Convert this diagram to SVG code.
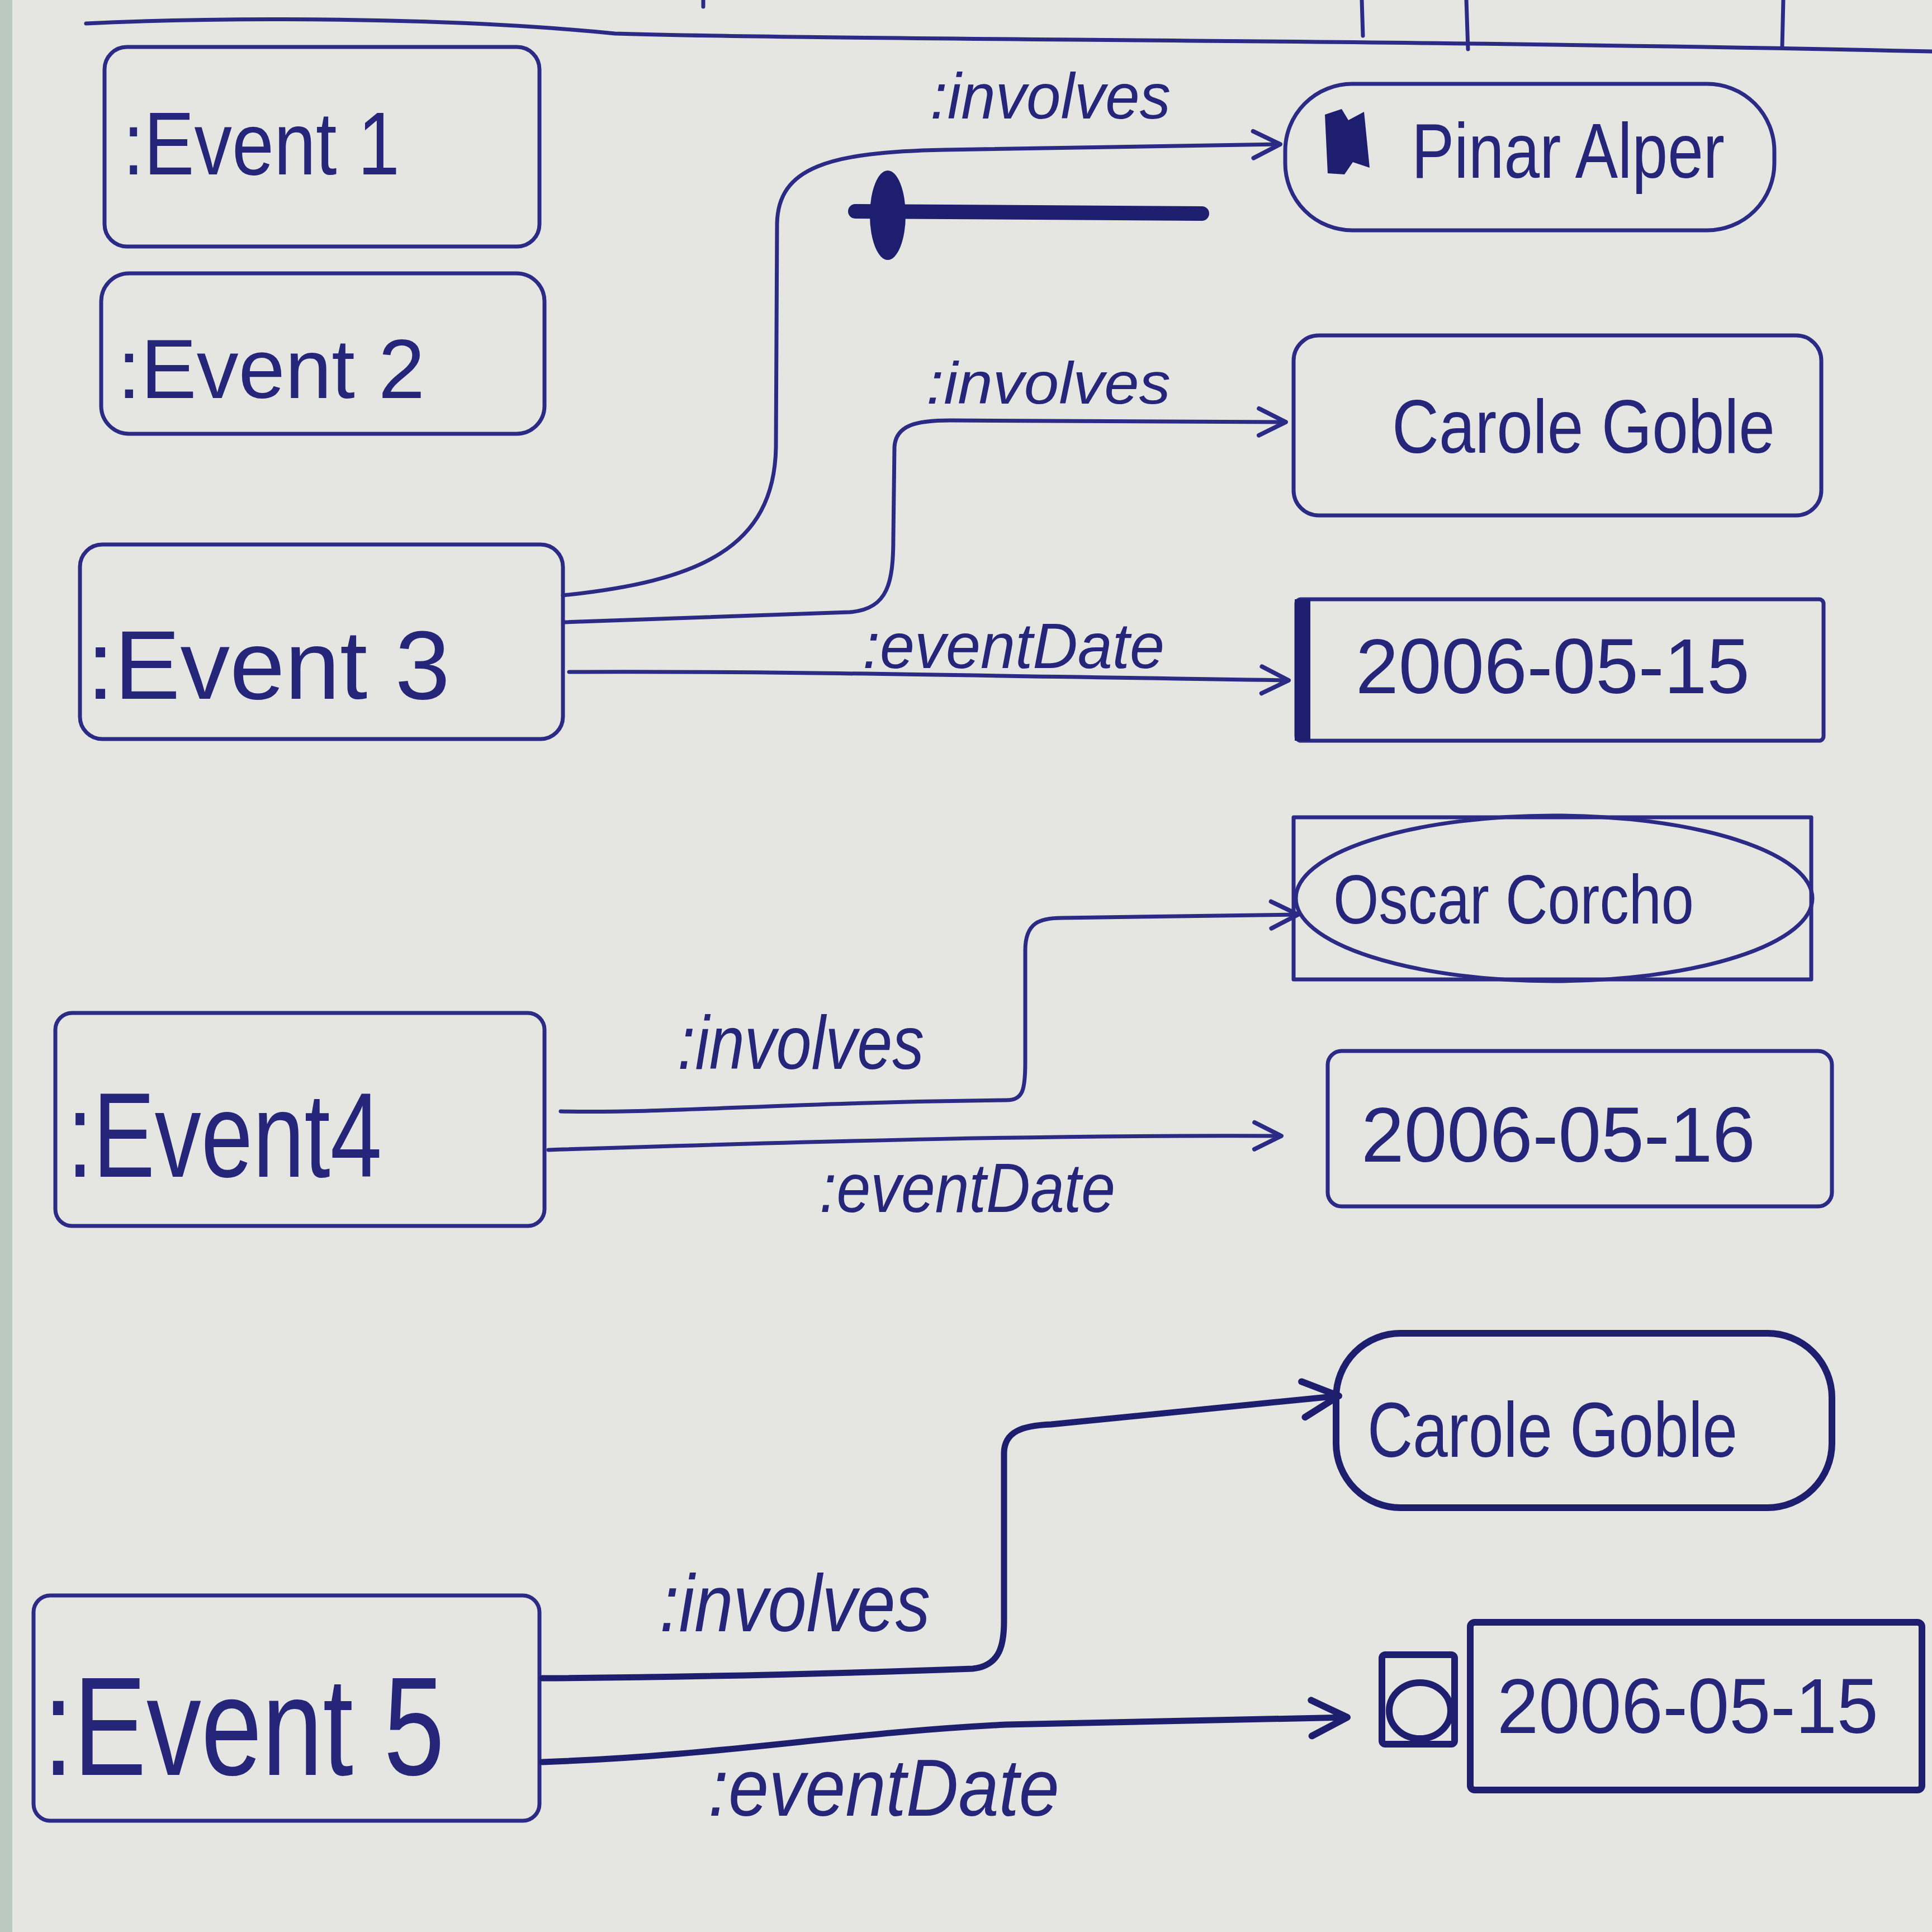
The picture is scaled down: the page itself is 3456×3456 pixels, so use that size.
<svg xmlns="http://www.w3.org/2000/svg" width="3456" height="3456" viewBox="0 0 3456 3456">
<style>
.bg{fill:#e5e5e1}
.box{fill:none;stroke:#2b2b86;stroke-width:7;stroke-linejoin:round}
.bold{stroke-width:12;stroke:#1e1e6e}
.t{font-family:"Liberation Sans","DejaVu Sans",sans-serif;fill:#25257a}
.lbl{font-family:"Liberation Sans","DejaVu Sans",sans-serif;fill:#25257a;font-style:italic}
.edge{fill:none;stroke:#2b2b86;stroke-width:7;stroke-linecap:round;stroke-linejoin:round}
.edgeb{stroke-width:11;stroke:#1e1e6e}
.strike{fill:none;stroke:#1e1e6e;stroke-width:26;stroke-linecap:round}
.ink{fill:#1e1e6e}
</style>
<defs>
<marker id="arr" viewBox="0 0 20 20" refX="18" refY="10" markerWidth="60" markerHeight="60" markerUnits="userSpaceOnUse" orient="auto">
<path d="M2,2 L18,10 L2,18" fill="none" stroke="#2b2b86" stroke-width="2.6" stroke-linecap="round" stroke-linejoin="round"/>
</marker>
<marker id="arrb" viewBox="0 0 20 20" refX="18" refY="10" markerWidth="80" markerHeight="80" markerUnits="userSpaceOnUse" orient="auto">
<path d="M2,2 L18,10 L2,18" fill="none" stroke="#1e1e6e" stroke-width="3" stroke-linecap="round" stroke-linejoin="round"/>
</marker>
</defs>
<rect class="bg" x="0" y="0" width="3456" height="3456"/>
<rect x="0" y="0" width="22" height="3456" fill="#b9c9c0"/>

<g id="header">
<path class="edge" d="M154,42 C400,30 800,30 1100,60 C1500,72 2500,70 3456,92"/>
<path class="edge" d="M2436,0 L2438,64 M2623,0 L2626,88 M3190,0 L3188,84 M1258,0 L1258,12"/>
</g>

<g id="event1">
<rect class="box" x="187" y="84" width="778" height="357" rx="40"/>
<text class="t" x="220" y="312" font-size="160" textLength="495" lengthAdjust="spacingAndGlyphs">:Event 1</text>
</g>
<g id="event2">
<rect class="box" x="181" y="489" width="793" height="287" rx="50"/>
<text class="t" x="210" y="712" font-size="150" textLength="550" lengthAdjust="spacingAndGlyphs">:Event 2</text>
</g>
<g id="event3">
<rect class="box" x="143" y="974" width="864" height="348" rx="40"/>
<text class="t" x="155" y="1250" font-size="175" textLength="650" lengthAdjust="spacingAndGlyphs">:Event  3</text>
</g>
<g id="event4">
<rect class="box" x="99" y="1812" width="875" height="381" rx="30"/>
<text class="t" x="120" y="2105" font-size="215" textLength="563" lengthAdjust="spacingAndGlyphs">:Event4</text>
</g>
<g id="event5">
<rect class="box" x="60" y="2854" width="905" height="403" rx="30"/>
<text class="t" x="77" y="3175" font-size="250" textLength="718" lengthAdjust="spacingAndGlyphs">:Event 5</text>
</g>

<g id="pinar">
<rect class="box" x="2299" y="150" width="875" height="262" rx="120"/>
<path class="ink" d="M2370,205 L2400,195 L2412,215 L2440,200 L2450,300 L2420,290 L2405,312 L2375,310 Z"/>
<text class="t" x="2525" y="318" font-size="140" textLength="560" lengthAdjust="spacingAndGlyphs">Pinar Alper</text>
</g>
<g id="carole1">
<rect class="box" x="2314" y="600" width="944" height="322" rx="45"/>
<text class="t" x="2490" y="810" font-size="135" textLength="685" lengthAdjust="spacingAndGlyphs">Carole Goble</text>
</g>
<g id="date1">
<rect class="box" x="2319" y="1072" width="943" height="253" rx="8"/>
<rect class="ink" x="2316" y="1072" width="28" height="253"/>
<text class="t" x="2425" y="1240" font-size="140" textLength="705" lengthAdjust="spacingAndGlyphs">2006-05-15</text>
</g>
<g id="oscar">
<rect class="box" x="2314" y="1462" width="926" height="290"/>
<ellipse class="box" cx="2780" cy="1607" rx="462" ry="148"/>
<text class="t" x="2385" y="1652" font-size="125" textLength="645" lengthAdjust="spacingAndGlyphs">Oscar Corcho</text>
</g>
<g id="date2">
<rect class="box" x="2375" y="1880" width="902" height="278" rx="25"/>
<text class="t" x="2435" y="2078" font-size="140" textLength="705" lengthAdjust="spacingAndGlyphs">2006-05-16</text>
</g>
<g id="carole2">
<rect class="box bold" x="2390" y="2385" width="887" height="312" rx="115"/>
<text class="t" x="2446" y="2606" font-size="140" textLength="662" lengthAdjust="spacingAndGlyphs">Carole Goble</text>
</g>
<g id="scribble">
<rect class="box bold" x="2472" y="2960" width="130" height="160" rx="6"/>
<ellipse class="box bold" cx="2540" cy="3060" rx="55" ry="50"/>
</g>
<g id="date3">
<rect class="box bold" x="2630" y="2902" width="808" height="300" rx="8"/>
<text class="t" x="2678" y="3100" font-size="140" textLength="682" lengthAdjust="spacingAndGlyphs">2006-05-15</text>
</g>

<g id="connectors">
<path class="edge" d="M1007,1065 C1250,1040 1385,980 1388,800 L1390,400 C1392,300 1480,272 1690,268 L2290,258" marker-end="url(#arr)"/>
<path class="edge" d="M1010,1113 L1520,1095 C1590,1090 1598,1040 1598,960 L1600,800 C1602,760 1640,752 1700,752 L2300,755" marker-end="url(#arr)"/>
<path class="edge" d="M1018,1202 C1400,1200 1800,1210 2305,1217" marker-end="url(#arr)"/>
<path class="edge" d="M1003,1988 C1200,1992 1400,1972 1800,1968 C1830,1968 1834,1950 1834,1900 L1834,1700 C1834,1650 1860,1642 1900,1642 L2322,1636" marker-end="url(#arr)"/>
<path class="edge" d="M981,2057 C1500,2040 1900,2030 2292,2032" marker-end="url(#arr)"/>
<path class="edge edgeb" d="M970,3002 C1300,3000 1600,2990 1740,2985 C1790,2980 1796,2940 1796,2900 L1796,2600 C1796,2560 1830,2550 1880,2548 L2395,2497" marker-end="url(#arrb)"/>
<path class="edge edgeb" d="M970,3152 C1300,3140 1500,3100 1800,3085 L2410,3072" marker-end="url(#arrb)"/>
<g id="crossed-out">
<path class="strike" d="M1530,378 L2150,382"/>
<ellipse class="ink" cx="1588" cy="385" rx="32" ry="80"/>
</g>
<text class="lbl" x="1664" y="212" font-size="115" textLength="430" lengthAdjust="spacingAndGlyphs">:involves</text>
<text class="lbl" x="1657" y="722" font-size="105" textLength="437" lengthAdjust="spacingAndGlyphs">:involves</text>
<text class="lbl" x="1543" y="1195" font-size="115" textLength="540" lengthAdjust="spacingAndGlyphs">:eventDate</text>
<text class="lbl" x="1212" y="1912" font-size="135" textLength="441" lengthAdjust="spacingAndGlyphs">:involves</text>
<text class="lbl" x="1466" y="2168" font-size="125" textLength="529" lengthAdjust="spacingAndGlyphs">:eventDate</text>
<text class="lbl" x="1180" y="2918" font-size="145" textLength="484" lengthAdjust="spacingAndGlyphs">:involves</text>
<text class="lbl" x="1267" y="3248" font-size="145" textLength="628" lengthAdjust="spacingAndGlyphs">:eventDate</text>
</g>
</svg>
